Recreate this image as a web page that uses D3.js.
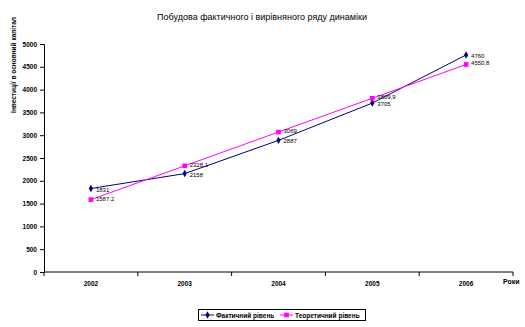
<!DOCTYPE html>
<html>
<head>
<meta charset="utf-8">
<script src="https://cdn.jsdelivr.net/npm/d3@7"></script>
<style>
  body { margin: 0; background: #fff; }
  svg { display: block; font-family: "Liberation Sans", Arial, sans-serif; }
</style>
</head>
<body>
<svg id="chart" width="525" height="327"></svg>
<script>
// Years and the two series: actual and fitted (trend) levels
const years = ["2002", "2003", "2004", "2005", "2006"];
const actualLevel = [1831, 2158, 2887, 3705, 4760];
const trendLevel = [1587.2, 2328.1, 3069, 3809.9, 4550.8];
const yTicks = [0, 500, 1000, 1500, 2000, 2500, 3000, 3500, 4000, 4500, 5000];
const seriesNames = ["Фактичний рівень", "Теоретичний рівень"];

const svg = d3.select("#chart");
const m = { left: 44, right: 513, top: 44, bottom: 272 };

const x = d3.scaleBand().domain(years).range([m.left, m.right]);
const y = d3.scaleLinear().domain([0, 5000]).range([m.bottom, m.top]);

const fmt = v => String(v).replace(".", ",");

// Title
svg.append("text")
  .attr("x", 262).attr("y", 20)
  .attr("text-anchor", "middle")
  .attr("font-size", 9)
  .attr("fill", "#000")
  .text("Побудова фактичного і вирівняного ряду динаміки");

// Y axis
const yAxis = svg.append("g")
  .attr("transform", `translate(${m.left},0)`)
  .call(d3.axisLeft(y).tickValues(yTicks).tickSize(4).tickPadding(3).tickFormat(d3.format("d")));
yAxis.select(".domain").attr("stroke", "#000").attr("stroke-width", 1);
yAxis.selectAll(".tick line").attr("stroke", "#000");
yAxis.selectAll(".tick text").attr("font-size", 6.5).attr("font-weight", "bold")
  .attr("font-family", "'Liberation Sans', Arial, sans-serif").attr("fill", "#000");

// X axis with ticks on category boundaries
const xAxisG = svg.append("g").attr("transform", `translate(0,${m.bottom})`);
xAxisG.append("line")
  .attr("x1", m.left).attr("x2", m.right)
  .attr("stroke", "#000");
const bounds = years.map(d => x(d)).concat([x(years[years.length - 1]) + x.bandwidth()]);
xAxisG.selectAll(".bt").data(bounds).join("line")
  .attr("x1", d => d).attr("x2", d => d)
  .attr("y1", 0).attr("y2", 4)
  .attr("stroke", "#000");
xAxisG.selectAll(".lbl").data(years).join("text")
  .attr("x", d => x(d) + x.bandwidth() / 2)
  .attr("y", 14)
  .attr("text-anchor", "middle")
  .attr("font-size", 6.5).attr("font-weight", "bold")
  .text(d => d);

// Axis titles
svg.append("text")
  .attr("transform", "translate(16,65) rotate(-90)")
  .attr("text-anchor", "middle")
  .attr("font-size", 6.5).attr("font-weight", "bold")
  .text("Інвестиції в основний капітал");
svg.append("text")
  .attr("x", 503).attr("y", 284)
  .attr("font-size", 7).attr("font-weight", "bold")
  .text("Роки");

const cx = d => x(d) + x.bandwidth() / 2;
const line = d3.line().x(d => cx(d.year)).y(d => y(d.v));

const series = [
  { name: seriesNames[0], color: "#000080", values: actualLevel, marker: "diamond", dy: 3 },
  { name: seriesNames[1], color: "#ff00ff", values: trendLevel, marker: "square", dy: 1 }
];

series.forEach(s => {
  const pts = years.map((yr, i) => ({ year: yr, v: s.values[i] }));
  svg.append("path").datum(pts)
    .attr("d", line)
    .attr("fill", "none")
    .attr("stroke", s.color)
    .attr("stroke-width", 1);
  const sym = s.marker === "square" ? d3.symbolSquare : d3.symbolDiamond;
  svg.append("g").selectAll("path").data(pts).join("path")
    .attr("transform", d => `translate(${cx(d.year)},${y(d.v)})`)
    .attr("d", d3.symbol().type(sym).size(s.marker === "square" ? 22 : 16))
    .attr("fill", s.color);
  svg.append("g").selectAll("text").data(pts).join("text")
    .attr("x", d => cx(d.year) + 5)
    .attr("y", d => y(d.v) + s.dy)
    .attr("font-size", 6)
    .attr("fill", "#000")
    .text(d => fmt(d.v));
});

// Legend
const lg = svg.append("g");
lg.append("rect")
  .attr("x", 198.5).attr("y", 309.5).attr("width", 167).attr("height", 11)
  .attr("fill", "#fff").attr("stroke", "#000");
const entries = [
  { s: series[0], x: 201, tx: 216 },
  { s: series[1], x: 280, tx: 295 }
];
entries.forEach(e => {
  lg.append("line")
    .attr("x1", e.x).attr("x2", e.x + 13)
    .attr("y1", 315).attr("y2", 315)
    .attr("stroke", e.s.color);
  lg.append("path")
    .attr("transform", `translate(${e.x + 6.5},315)`)
    .attr("d", d3.symbol().type(e.s.marker === "square" ? d3.symbolSquare : d3.symbolDiamond)
      .size(e.s.marker === "square" ? 22 : 16))
    .attr("fill", e.s.color);
  lg.append("text")
    .attr("x", e.tx).attr("y", 317.5)
    .attr("font-size", 6.5).attr("font-weight", "bold")
    .text(e.s.name);
});
</script>
</body>
</html>
